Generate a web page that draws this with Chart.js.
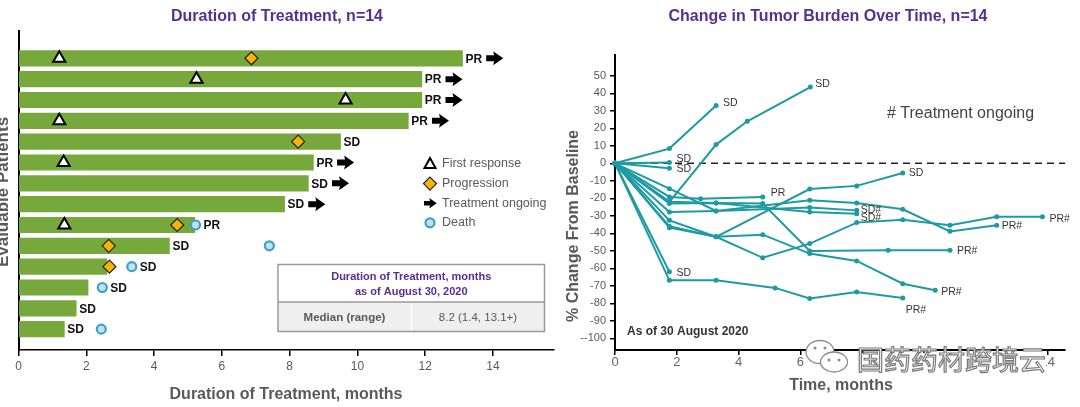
<!DOCTYPE html>
<html lang="en">
<head>
<meta charset="UTF-8">
<title>Duration of Treatment / Change in Tumor Burden</title>
<script src="https://cdn.jsdelivr.net/npm/chart.js"></script>
<style>
  html, body { margin: 0; padding: 0; background: #fff; }
  body { width: 1080px; height: 407px; position: relative; overflow: hidden; }
  #durationChart { position: absolute; left: 0; top: 0; }
  #tumorChart { position: absolute; left: 555px; top: 0; }
</style>
</head>
<body>
<canvas id="durationChart" width="563" height="407"></canvas>
<canvas id="tumorChart" width="525" height="407"></canvas>

<script>
// ---- left panel: duration of treatment (one row per patient, top to bottom)
const treatmentMonths = [13.1, 11.9, 11.9, 11.5, 9.5, 8.7, 8.55, 7.85, 5.2, 4.45, 2.6, 2.05, 1.7, 1.35];
const bestResponse = ['PR', 'PR', 'PR', 'PR', 'SD', 'PR', 'SD', 'SD', 'PR', 'SD', 'SD', 'SD', 'SD', 'SD'];
const stillOnTreatment = [1, 1, 1, 1, 0, 1, 1, 1, 0, 0, 0, 0, 0, 0];
const firstResponseAt = [1.2, 5.25, 9.65, 1.2, null, 1.33, null, null, 1.35, null, null, null, null, null];
const progressionAt = [6.87, null, null, null, 8.25, null, null, null, 4.68, 2.66, 2.68, null, null, null];
const deathAt = [null, null, null, null, null, null, null, null, 5.22, 7.4, 3.34, 2.47, null, 2.44];
const durationTicks = [0, 2, 4, 6, 8, 10, 12, 14];
const legendItems = ['First response', 'Progression', 'Treatment ongoing', 'Death'];
const tableHeader = ['Duration of Treatment, months', 'as of August 30, 2020'];
const tableRow = ['Median (range)', '8.2 (1.4, 13.1+)'];

// ---- right panel: % change from baseline per patient
const tumorMonths = [
  [0, 1.76, 3.27],
  [0, 1.76, 3.27, 4.28, 6.32],
  [0, 1.76],
  [0, 1.76],
  [0, 1.76],
  [0, 1.76, 3.27, 5.18, 6.3, 7.82, 9.31],
  [0, 1.76, 3.27, 4.78, 6.3, 7.82, 9.31, 10.36],
  [0, 1.76, 3.27, 4.78, 6.3, 8.84, 10.84],
  [0, 1.76, 2.77, 4.78],
  [0, 1.76, 3.27, 6.3, 7.82, 9.31],
  [0, 1.76, 3.27, 4.78, 6.3, 7.82, 9.31, 10.84, 12.35, 13.83],
  [0, 1.76, 3.27, 6.3, 7.82, 9.31, 10.84, 12.35],
  [0, 1.76, 3.27, 6.3, 7.82],
  [0, 1.76, 3.27, 6.3, 7.82]
];
const tumorChange = [
  [0, 8.4, 33],
  [0, -22, 10.7, 24, 43.6],
  [0, 0.4],
  [0, -2.8],
  [0, -62],
  [0, -66.9, -66.9, -71.2, -77.3, -73.5, -77],
  [0, -36, -42, -40.8, -51.6, -55.8, -68.8, -72.6],
  [0, -23, -22.7, -23, -50.1, -49.7, -49.7],
  [0, -19.2, -20.2, -19.2],
  [0, -32.6, -42, -14.7, -12.9, -5.5],
  [0, -36.8, -42, -54, -45.9, -33.9, -32.2, -35.4, -30.6, -30.6],
  [0, -14.5, -27.2, -21.1, -22.7, -26.3, -38.9, -35.4],
  [0, -27.8, -27.2, -25.3, -26.9],
  [0, -22, -22.7, -27.8, -28.8]
];
const tumorStatus = ['SD', 'SD', 'SD', 'SD', 'SD', 'PR#', 'PR#', 'PR#', 'PR', 'SD', 'PR#', 'PR#', 'SD#', 'SD#'];
const changeTicks = [50, 40, 30, 20, 10, 0, -10, -20, -30, -40, -50, -60, -70, -80, -90, -100];
const timeTicks = [0, 2, 4, 6, 8, 10, 12, 14];

// label nudges (px) for the end-of-line labels on the right
const labelNudge = [[7, -2], [5, -3], [7, -3], [7, 1], [7, 1], [3, 12], [6, 2], [7, 1], [8, -4], [6, 0], [7, 2], [5, 1], [4, 0], [4, 4]];

const FONT = "'Liberation Sans', Arial, Helvetica, sans-serif";
const PURPLE = '#5c2d91';
const GREY = '#595959';
const BAR_GREEN = '#77a83c';
const GOLD = '#f7b500';
const DEATH_FILL = '#bfe2ee';
const DEATH_RING = '#41a0c5';
const TEAL = '#1d9ba3';

Chart.defaults.font.family = FONT;

// block arrow used for "treatment ongoing"
function drawArrow(ctx, x0, y, s) {
  ctx.save();
  ctx.fillStyle = '#000';
  ctx.beginPath();
  ctx.moveTo(x0, y - 3 * s);
  ctx.lineTo(x0 + 8 * s, y - 3 * s);
  ctx.lineTo(x0 + 7 * s, y - 7 * s);
  ctx.lineTo(x0 + 17 * s, y);
  ctx.lineTo(x0 + 7 * s, y + 7 * s);
  ctx.lineTo(x0 + 8 * s, y + 3 * s);
  ctx.lineTo(x0, y + 3 * s);
  ctx.closePath();
  ctx.fill();
  ctx.restore();
}

function rowPoints(values) {
  const pts = [];
  values.forEach((v, i) => { if (v !== null) pts.push({ x: v, y: i + 1 }); });
  return pts;
}

const durationDecor = {
  id: 'durationDecor',
  afterDraw(chart) {
    const { ctx, scales: { x, y } } = chart;
    ctx.save();
    ctx.textBaseline = 'middle';

    // titles
    ctx.fillStyle = PURPLE;
    ctx.textAlign = 'center';
    ctx.font = 'bold 16px ' + FONT;
    ctx.fillText('Duration of Treatment, n=14', 277, 17);
    ctx.fillStyle = GREY;
    ctx.fillText('Duration of Treatment, months', 286, 395);
    ctx.save();
    ctx.translate(3, 192);
    ctx.rotate(-Math.PI / 2);
    ctx.font = 'bold 17px ' + FONT;
    ctx.fillText('Evaluable Patients', 0, 0);
    ctx.restore();

    // response labels + ongoing arrows
    ctx.textAlign = 'left';
    ctx.font = 'bold 12px ' + FONT;
    ctx.fillStyle = '#111';
    treatmentMonths.forEach((m, i) => {
      const yPix = y.getPixelForValue(i + 1);
      let anchor = x.getPixelForValue(m) + 3;
      const d = deathAt[i];
      if (d !== null && d - m < 1) anchor = x.getPixelForValue(d) + 8;
      ctx.fillText(bestResponse[i], anchor, yPix + 1);
      if (stillOnTreatment[i]) {
        drawArrow(ctx, anchor + ctx.measureText(bestResponse[i]).width + 4, yPix, 1);
      }
    });

    // legend
    const lx = 430, ly0 = 164, step = 19.6;
    ctx.font = '12.5px ' + FONT;
    ctx.fillStyle = GREY;
    legendItems.forEach((t, k) => ctx.fillText(t, lx + 12, ly0 + k * step));
    // triangle
    ctx.beginPath();
    ctx.moveTo(lx, ly0 - 6); ctx.lineTo(lx + 5.5, ly0 + 4); ctx.lineTo(lx - 5.5, ly0 + 4); ctx.closePath();
    ctx.fillStyle = '#fff'; ctx.fill();
    ctx.lineWidth = 2; ctx.strokeStyle = '#000'; ctx.stroke();
    // diamond
    const dy = ly0 + step;
    ctx.beginPath();
    ctx.moveTo(lx, dy - 6.5); ctx.lineTo(lx + 6.5, dy); ctx.lineTo(lx, dy + 6.5); ctx.lineTo(lx - 6.5, dy); ctx.closePath();
    ctx.fillStyle = GOLD; ctx.fill();
    ctx.lineWidth = 1.2; ctx.strokeStyle = '#222'; ctx.stroke();
    // arrow
    drawArrow(ctx, lx - 6, ly0 + 2 * step, 0.75);
    // death
    ctx.beginPath();
    ctx.arc(lx, ly0 + 3 * step, 4.5, 0, Math.PI * 2);
    ctx.fillStyle = DEATH_FILL; ctx.fill();
    ctx.lineWidth = 2.2; ctx.strokeStyle = DEATH_RING; ctx.stroke();

    // summary table
    const tx = 278, ty = 264.5, tw = 266.5, th = 67, hh = 37.5;
    ctx.fillStyle = '#fff';
    ctx.fillRect(tx, ty, tw, hh);
    ctx.fillStyle = '#efefef';
    ctx.fillRect(tx, ty + hh, tw, th - hh);
    ctx.strokeStyle = '#fff';
    ctx.lineWidth = 1.5;
    ctx.beginPath(); ctx.moveTo(tx + 133.5, ty + hh); ctx.lineTo(tx + 133.5, ty + th); ctx.stroke();
    ctx.strokeStyle = '#9a9a9a';
    ctx.strokeRect(tx, ty, tw, th);
    ctx.beginPath(); ctx.moveTo(tx, ty + hh); ctx.lineTo(tx + tw, ty + hh); ctx.stroke();
    ctx.textAlign = 'center';
    ctx.fillStyle = PURPLE;
    ctx.font = 'bold 11px ' + FONT;
    ctx.fillText(tableHeader[0], tx + tw / 2, 277);
    ctx.fillText(tableHeader[1], tx + tw / 2, 291.5);
    ctx.fillStyle = GREY;
    ctx.font = 'bold 11.5px ' + FONT;
    ctx.fillText(tableRow[0], 344.5, 317.5);
    ctx.font = '11.5px ' + FONT;
    ctx.fillText(tableRow[1], 478, 317.5);
    ctx.restore();
  }
};

new Chart(document.getElementById('durationChart'), {
  type: 'bar',
  data: {
    datasets: [
      {
        type: 'scatter', label: 'First response', order: 1,
        data: rowPoints(firstResponseAt),
        pointStyle: 'triangle', pointRadius: 7,
        backgroundColor: '#fff', borderColor: '#000', borderWidth: 2
      },
      {
        type: 'scatter', label: 'Progression', order: 1,
        data: rowPoints(progressionAt),
        pointStyle: 'rectRot', pointRadius: 6.5,
        backgroundColor: GOLD, borderColor: '#222', borderWidth: 1.2
      },
      {
        type: 'scatter', label: 'Death', order: 1,
        data: rowPoints(deathAt),
        pointStyle: 'circle', pointRadius: 4.5,
        backgroundColor: DEATH_FILL, borderColor: DEATH_RING, borderWidth: 2.2
      },
      {
        label: 'Duration', order: 10, indexAxis: 'y',
        data: treatmentMonths.map((m, i) => ({ x: m, y: i + 1 })),
        backgroundColor: BAR_GREEN, borderWidth: 0, barThickness: 15.5
      }
    ]
  },
  options: {
    responsive: false,
    animation: false,
    layout: { padding: { left: 18.6, right: 1.4, top: 31, bottom: 0 } },
    plugins: { legend: { display: false }, tooltip: { enabled: false } },
    scales: {
      x: {
        type: 'linear', min: 0, max: 15.8, offset: false,
        afterBuildTicks: s => { s.ticks = durationTicks.map(v => ({ value: v })); },
        afterFit: s => { s.height = 57; s.paddingLeft = 0; s.paddingRight = 0; },
        grid: { offset: false, drawOnChartArea: false, drawTicks: true, tickLength: 6, color: '#000', lineWidth: 1.5 },
        border: { color: '#000', width: 1.5 },
        ticks: { color: GREY, font: { size: 12 }, padding: 3, maxRotation: 0 }
      },
      y: {
        type: 'linear', reverse: true, min: -0.31, max: 15, offset: false,
        afterFit: s => { s.width = 0; },
        ticks: { display: false },
        grid: { display: false, offset: false },
        border: { color: '#000', width: 2 }
      }
    }
  },
  plugins: [durationDecor]
});

const tumorDecor = {
  id: 'tumorDecor',
  beforeDatasetsDraw(chart) {
    const { ctx, chartArea, scales: { y } } = chart;
    const y0 = y.getPixelForValue(0);
    ctx.save();
    ctx.setLineDash([7, 5]);
    ctx.lineWidth = 1.6;
    ctx.strokeStyle = '#222';
    ctx.beginPath();
    ctx.moveTo(chartArea.left, y0);
    ctx.lineTo(chartArea.right, y0);
    ctx.stroke();
    ctx.restore();
  },
  afterDraw(chart) {
    const { ctx } = chart;
    ctx.save();
    ctx.textBaseline = 'middle';

    // end-of-line response labels
    ctx.textAlign = 'left';
    ctx.font = '10.5px ' + FONT;
    ctx.fillStyle = '#333';
    tumorStatus.forEach((lab, i) => {
      const pts = chart.getDatasetMeta(i).data;
      const p = pts[pts.length - 1];
      ctx.fillText(lab, p.x + labelNudge[i][0], p.y + labelNudge[i][1]);
    });

    // titles and notes
    ctx.textAlign = 'center';
    ctx.fillStyle = PURPLE;
    ctx.font = 'bold 16px ' + FONT;
    ctx.fillText('Change in Tumor Burden Over Time, n=14', 273, 17);
    ctx.fillStyle = GREY;
    ctx.fillText('Time, months', 286, 386);
    ctx.save();
    ctx.translate(19, 226);
    ctx.rotate(-Math.PI / 2);
    ctx.fillText('% Change From Baseline', 0, 0);
    ctx.restore();
    ctx.textAlign = 'left';
    ctx.font = '16px ' + FONT;
    ctx.fillStyle = '#444';
    ctx.fillText('# Treatment ongoing', 332, 114);
    ctx.font = 'bold 12px ' + FONT;
    ctx.fillStyle = '#333';
    ctx.fillText('As of 30 August 2020', 72, 332);

    // watermark
    ctx.fillStyle = 'rgba(255,255,255,0.95)';
    ctx.fillRect(251, 353, 240, 26);
    ctx.lineWidth = 1.3;
    ctx.strokeStyle = '#8c8c8c';
    ctx.fillStyle = '#fff';
    ctx.beginPath(); ctx.ellipse(265, 352, 14, 11.5, 0, 0, Math.PI * 2); ctx.fill(); ctx.stroke();
    ctx.beginPath(); ctx.ellipse(279, 362, 13.5, 10, 0, 0, Math.PI * 2); ctx.fill(); ctx.stroke();
    ctx.fillStyle = '#8c8c8c';
    [[260, 348], [270, 348], [274, 360], [284, 360]].forEach(([a, b]) => {
      ctx.beginPath(); ctx.arc(a, b, 1.5, 0, Math.PI * 2); ctx.fill();
    });
    ctx.font = "27px 'Noto Sans CJK SC', sans-serif";
    ctx.fillStyle = '#fff';
    ctx.strokeStyle = '#7a7a7a';
    ctx.lineWidth = 1.2;
    ctx.fillText('国药药材跨境云', 302, 360);
    ctx.strokeText('国药药材跨境云', 302, 360);
    ctx.restore();
  }
};

new Chart(document.getElementById('tumorChart'), {
  type: 'line',
  data: {
    datasets: tumorMonths.map((months, i) => ({
      label: 'Patient ' + (i + 1),
      data: months.map((m, k) => ({ x: m, y: tumorChange[i][k] })),
      borderColor: TEAL, backgroundColor: TEAL,
      borderWidth: 2, pointRadius: 2.5, pointBorderWidth: 0,
      tension: 0, clip: false
    }))
  },
  options: {
    responsive: false,
    animation: false,
    layout: { padding: { left: 0, right: 15, top: 55, bottom: 0 } },
    plugins: { legend: { display: false }, tooltip: { enabled: false } },
    scales: {
      x: {
        type: 'linear', min: 0, max: 14.56,
        afterBuildTicks: s => { s.ticks = timeTicks.map(v => ({ value: v })); },
        afterFit: s => { s.height = 57; },
        grid: { drawOnChartArea: false, drawTicks: true, tickLength: 5, color: '#000', lineWidth: 1.5 },
        border: { color: '#000', width: 2 },
        ticks: { color: '#666', font: { size: 13 }, padding: 0, maxRotation: 0 }
      },
      y: {
        type: 'linear', min: -106.7, max: 61.9,
        afterBuildTicks: s => { s.ticks = changeTicks.map(v => ({ value: v })); },
        afterFit: s => { s.width = 60; },
        grid: { drawOnChartArea: false, drawTicks: true, tickLength: 5, color: '#000', lineWidth: 1.5 },
        border: { color: '#000', width: 2 },
        ticks: {
          color: GREY, font: { size: 11 }, padding: 4,
          callback: v => (v === -100 ? '--100' : String(v))
        }
      }
    }
  },
  plugins: [tumorDecor]
});
</script>
</body>
</html>
